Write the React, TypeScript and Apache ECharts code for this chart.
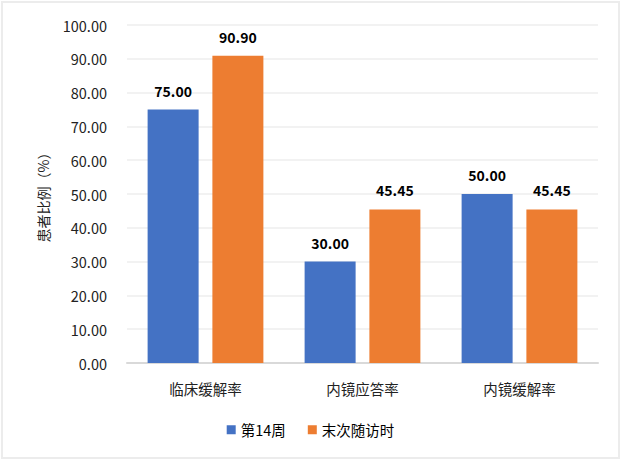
import React, { useEffect, useRef } from "react";
import * as echarts from "echarts";

const categories = ["临床缓解率", "内镜应答率", "内镜缓解率"];
const seriesNames = ["第14周", "末次随访时"];
const week14 = [75.0, 30.0, 50.0];
const lastVisit = [90.9, 45.45, 45.45];
const colors = ["#4472C4", "#ED7D31"];
const font = "'Noto Sans CJK SC', 'Noto Sans', sans-serif";

export default function App() {
  const ref = useRef<HTMLDivElement>(null);
  useEffect(() => {
    const chart = echarts.init(ref.current!, undefined, { renderer: "svg" });
    const label = {
      show: true,
      position: "top",
      distance: 12,
      formatter: (p: any) => Number(p.value).toFixed(2),
      fontFamily: font,
      fontWeight: "bold",
      fontSize: 14,
      color: "#000",
    };
    chart.setOption({
      animation: false,
      color: colors,
      textStyle: { fontFamily: font },
      grid: { left: 127, right: 23, top: 25, bottom: 98, containLabel: false },
      legend: {
        bottom: 19,
        left: "center",
        itemWidth: 9,
        itemHeight: 9,
        itemGap: 22,
        icon: "rect",
        textStyle: { fontSize: 14.5, color: "#000", fontFamily: font },
        data: seriesNames,
      },
      xAxis: {
        type: "category",
        data: categories,
        axisTick: { show: false },
        axisLine: { lineStyle: { color: "#d9d9d9", width: 2 } },
        axisLabel: { fontSize: 14.5, color: "#222", margin: 18, fontFamily: font },
      },
      yAxis: {
        type: "value",
        min: 0,
        max: 100,
        interval: 10,
        name: "患者比例（%）",
        nameLocation: "middle",
        nameGap: 77,
        nameRotate: 90,
        nameTextStyle: { fontSize: 14, color: "#222", fontFamily: font },
        axisLabel: {
          formatter: (v: number) => v.toFixed(2),
          fontSize: 14.5,
          color: "#222",
          margin: 20,
          fontFamily: font,
        },
        splitLine: { lineStyle: { color: "#eeeeee", width: 1.5 } },
        axisLine: { show: false },
        axisTick: { show: false },
      },
      series: [
        {
          name: seriesNames[0],
          type: "bar",
          data: week14,
          barWidth: 51,
          barGap: "27%",
          label,
        },
        {
          name: seriesNames[1],
          type: "bar",
          data: lastVisit,
          barWidth: 51,
          label,
        },
      ],
    });
    return () => chart.dispose();
  }, []);
  return (
    <div
      style={{
        position: "fixed",
        left: 0,
        top: 0,
        width: 621,
        height: 461,
        background: "#fff",
      }}
    >
      <div
        style={{
          position: "absolute",
          left: 1,
          top: 1,
          width: 619,
          height: 458,
          boxSizing: "border-box",
          border: "2px solid #ececec",
        }}
      />
      <div ref={ref} style={{ position: "absolute", left: 0, top: 0, width: 621, height: 461 }} />
    </div>
  );
}
